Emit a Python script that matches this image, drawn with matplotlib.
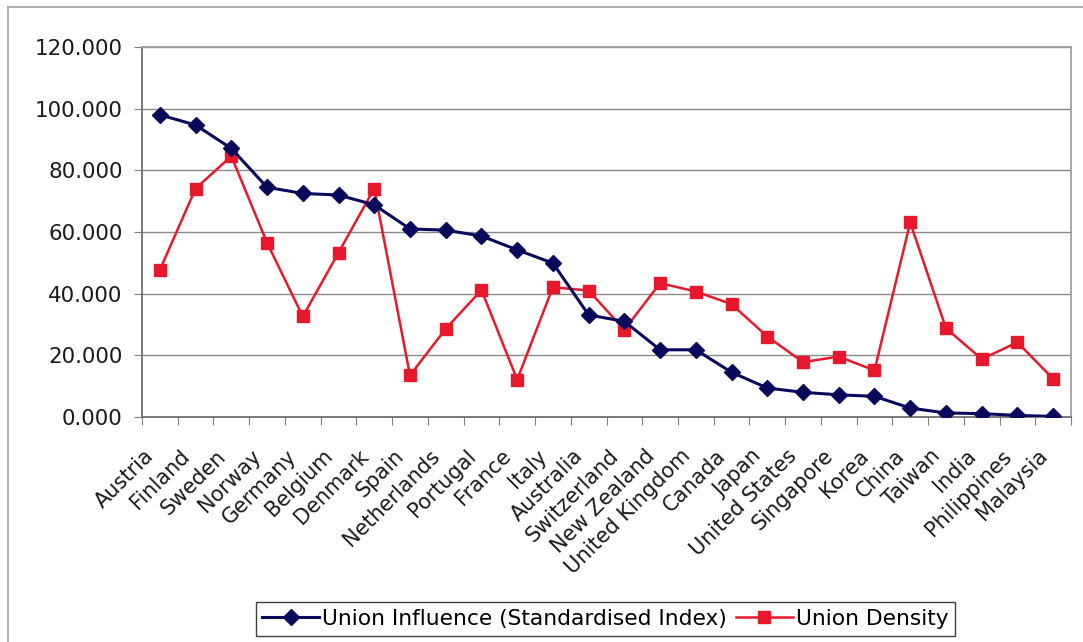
import matplotlib
matplotlib.use("Agg")
import matplotlib.pyplot as plt
from matplotlib.lines import Line2D
from matplotlib.transforms import ScaledTranslation
import numpy as np

countries = ["Austria", "Finland", "Sweden", "Norway", "Germany", "Belgium",
             "Denmark", "Spain", "Netherlands", "Portugal", "France", "Italy",
             "Australia", "Switzerland", "New Zealand", "United Kingdom",
             "Canada", "Japan", "United States", "Singapore", "Korea", "China",
             "Taiwan", "India", "Philippines", "Malaysia"]
union_influence = [98.0, 94.7, 87.1, 74.5, 72.5, 72.0, 68.8, 61.0, 60.6, 58.7,
                   54.2, 49.9, 33.1, 31.0, 21.8, 21.8, 14.5, 9.4, 8.0, 7.2,
                   6.7, 2.9, 1.3, 1.1, 0.5, 0.2]
union_density = [47.7, 74.1, 84.6, 56.5, 32.6, 53.3, 74.1, 13.5, 28.6, 41.2,
                 12.1, 42.1, 41.0, 28.3, 43.4, 40.7, 36.6, 26.1, 17.8, 19.6,
                 15.1, 63.1, 28.8, 18.8, 24.2, 12.4]
y_ticks = [0, 20, 40, 60, 80, 100, 120]

fig = plt.figure(figsize=(10.83, 6.42), dpi=100)
fig.patch.set_facecolor("white")

# outer chart frame (left and top edges visible)
fig.add_artist(Line2D([8/1083, 8/1083], [-0.01, 1 - 7/642], transform=fig.transFigure,
                      color="#a0a0a0", lw=1.2))
fig.add_artist(Line2D([8/1083, 1.01], [1 - 7/642, 1 - 7/642], transform=fig.transFigure,
                      color="#a0a0a0", lw=1.2))

ax = fig.add_axes([142/1083, 225/642, 929/1083, 370/642])
x = np.arange(len(countries))

ax.plot(x, union_influence, color="#0a0a5c", lw=2.2, marker="D", markersize=8,
        markerfacecolor="#0a0a5c", markeredgecolor="#0a0a5c",
        label="Union Influence (Standardised Index)", zorder=3)
ax.plot(x, union_density, color="#e8182c", lw=1.8, marker="s", markersize=8.5,
        markerfacecolor="#e8182c", markeredgecolor="#e8182c",
        label="Union Density", zorder=2)

ax.set_xlim(-0.5, len(countries) - 0.5)
ax.set_ylim(0, 120)
ax.set_yticks(y_ticks)
ax.set_yticklabels([f"{v:.3f}" for v in y_ticks])
ax.yaxis.grid(True, color="#8a8a8a", lw=1)
ax.set_axisbelow(True)

ax.set_xticks(np.arange(-0.5, len(countries), 1.0))
ax.set_xticklabels([])
ax.set_xticks(x, minor=True)
ax.set_xticklabels(countries, minor=True, rotation=45, ha="right",
                   rotation_mode="anchor", fontsize=15, color="#1a1a1a")
ax.tick_params(axis="x", which="major", length=6, color="#808080", direction="out")
ax.tick_params(axis="x", which="minor", length=0, pad=10)
ax.tick_params(axis="y", length=6, color="#808080", labelsize=15.4,
               labelcolor="#1a1a1a", pad=8)

shift = ScaledTranslation(-16/100, -15/100, fig.dpi_scale_trans)
for lab in ax.get_xticklabels(minor=True):
    lab.set_transform(lab.get_transform() + shift)

for side in ["left", "bottom"]:
    ax.spines[side].set_color("#707070")
    ax.spines[side].set_linewidth(1.3)
for side in ["top", "right"]:
    ax.spines[side].set_color("#a0a0a0")
    ax.spines[side].set_linewidth(1.3)

leg = fig.legend(loc="center", bbox_to_anchor=(605.5/1083, 1 - 619/642), ncol=2,
                 frameon=True, fancybox=False, edgecolor="#404040", framealpha=1,
                 prop={"size": 15.7}, handlelength=2.6,
                 handletextpad=0.15, columnspacing=0.4, borderpad=0.3)
leg.get_frame().set_linewidth(1.0)

fig.savefig("out.png", dpi=100)
